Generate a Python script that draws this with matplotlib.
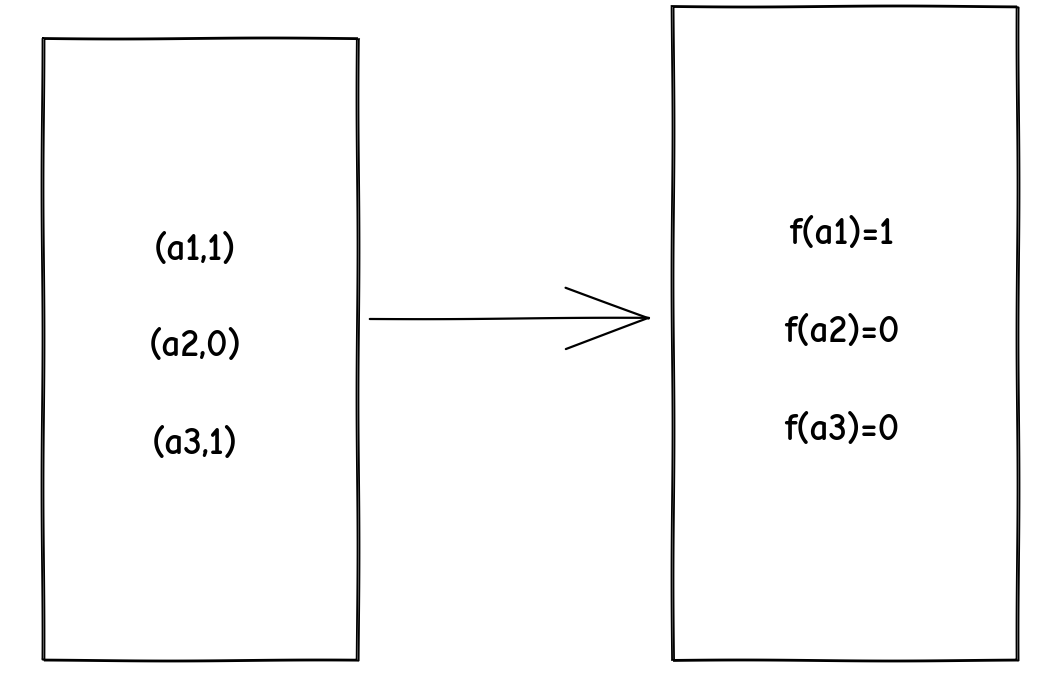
import matplotlib
matplotlib.use("Agg")
import matplotlib.pyplot as plt
from matplotlib.patches import Rectangle, FancyArrowPatch

# box text
left_labels = ["(a1,1)", "(a2,0)", "(a3,1)"]
right_labels = ["f(a1)=1", "f(a2)=0", "f(a3)=0"]

fig = plt.figure(figsize=(10.5, 6.74), dpi=100)
ax = fig.add_axes([0, 0, 1, 1])
ax.set_xlim(0, 1050)
ax.set_ylim(674, 0)
ax.axis("off")

# two passes per box for a hand-drawn look
for dx, dy in [(0, 0), (2, 1)]:
    r1 = Rectangle((42 + dx, 38 + dy), 315, 622, fill=False, lw=1.3, ec="black")
    r1.set_sketch_params(0.5, 300, 1)
    ax.add_patch(r1)
    r2 = Rectangle((672 + dx, 6 + dy), 345, 654, fill=False, lw=1.3, ec="black")
    r2.set_sketch_params(0.5, 300, 1)
    ax.add_patch(r2)

arrow = FancyArrowPatch((367, 319), (655, 318), arrowstyle="->,head_length=60,head_width=22",
                        lw=1.6, color="black", mutation_scale=1)
arrow.set_sketch_params(0.4, 300, 1)
ax.add_patch(arrow)

font = dict(fontsize=27, fontweight="bold", family=["Comic Neue", "Noto Sans", "DejaVu Sans"],
            ha="center", va="center")
for i, lab in enumerate(left_labels):
    ax.text(195, 250 + i * 97, lab, **font)
for i, lab in enumerate(right_labels):
    ax.text(842, 235 + i * 98, lab, **font)

fig.savefig("out.png", dpi=100)
